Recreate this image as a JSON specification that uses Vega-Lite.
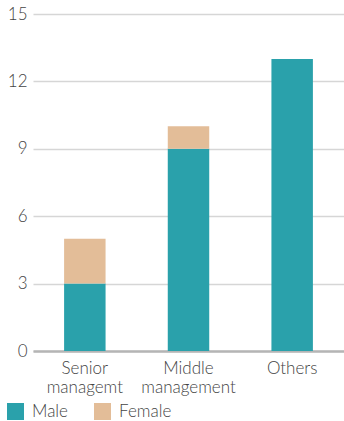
{
  "$schema": "https://vega.github.io/schema/vega-lite/v6.json",
  "autosize": {"type": "none"},
  "width": 311,
  "height": 337,
  "padding": {"left": 33, "top": 14, "right": 0, "bottom": 70},
  "background": "white",
  "config": {
    "font": "Lato",
    "view": {"stroke": null}
  },
  "data": {
    "values": [
      {"category": "Senior managemt", "gender": "Male", "value": 3},
      {"category": "Senior managemt", "gender": "Female", "value": 2},
      {"category": "Middle management", "gender": "Male", "value": 9},
      {"category": "Middle management", "gender": "Female", "value": 1},
      {"category": "Others", "gender": "Male", "value": 13},
      {"category": "Others", "gender": "Female", "value": 0}
    ]
  },
  "mark": {"type": "bar"},
  "encoding": {
    "x": {
      "field": "category",
      "type": "nominal",
      "sort": ["Senior managemt", "Middle management", "Others"],
      "scale": {"paddingInner": 0.6, "paddingOuter": 0.3},
      "axis": {
        "title": null,
        "labelAngle": 0,
        "labelExpr": "split(datum.label, ' ')",
        "labelFontSize": 17,
        "labelFontWeight": 300,
        "labelColor": "#444444",
        "labelLineHeight": 19,
        "labelPadding": 9,
        "ticks": false,
        "domainColor": "#b5b5b5",
        "domainWidth": 2.5
      }
    },
    "y": {
      "field": "value",
      "type": "quantitative",
      "aggregate": "sum",
      "stack": "zero",
      "scale": {"domain": [0, 15]},
      "axis": {
        "title": null,
        "values": [0, 3, 6, 9, 12, 15],
        "labelFontSize": 17,
        "labelFontWeight": 300,
        "labelColor": "#444444",
        "labelPadding": 6,
        "ticks": false,
        "domain": false,
        "gridColor": "#d6d6d6",
        "gridWidth": 1.5
      }
    },
    "color": {
      "field": "gender",
      "type": "nominal",
      "scale": {"domain": ["Male", "Female"], "range": ["#2aa1ab", "#e3bd98"]},
      "legend": {
        "title": null,
        "orient": "none",
        "legendX": -26,
        "legendY": 389,
        "direction": "horizontal",
        "symbolType": "square",
        "symbolSize": 289,
        "symbolStrokeWidth": 0,
        "symbolOpacity": 1,
        "labelFontSize": 17,
        "labelFontWeight": 300,
        "labelColor": "#444444",
        "labelOffset": 8,
        "columnPadding": 26
      }
    },
    "order": {"field": "gender", "sort": "descending"}
  }
}
